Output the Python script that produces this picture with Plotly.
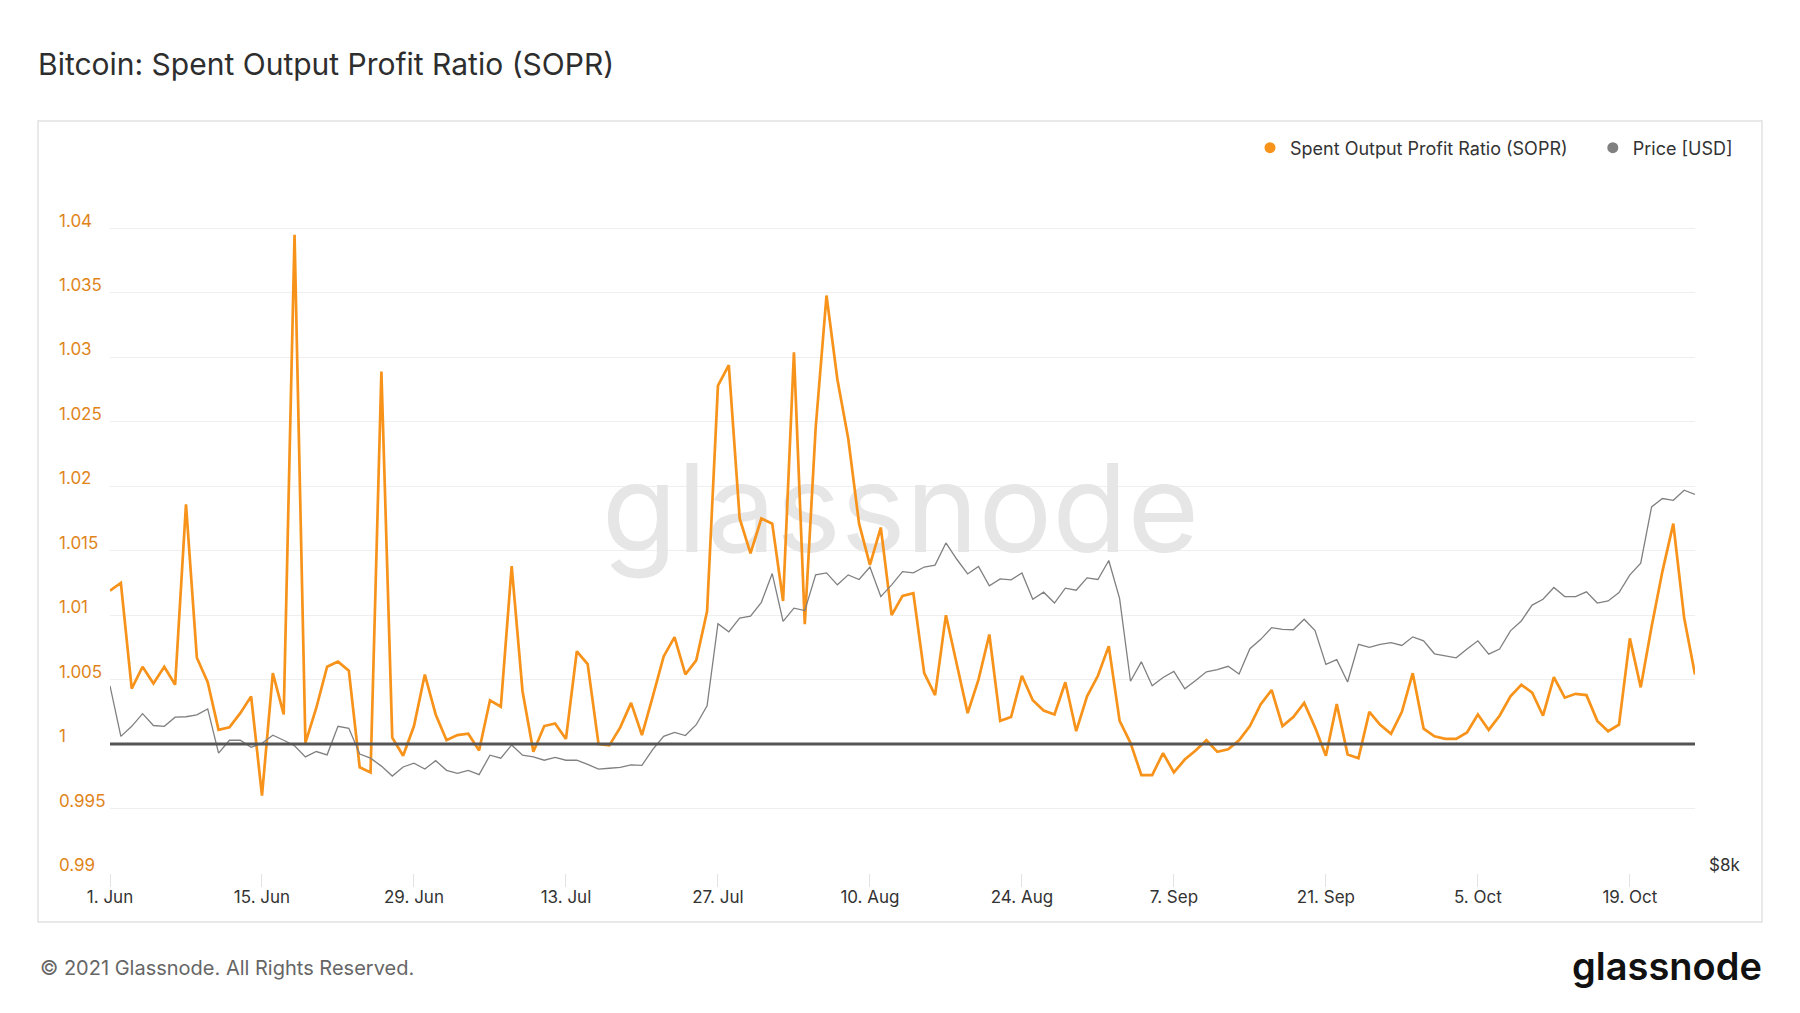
import math
import pandas as pd
import plotly.graph_objects as go

# ---------------- data ----------------
start_date = "2020-06-01"

sopr = [
    # June
    1.0119, 1.0125, 1.0043, 1.0060, 1.0047, 1.0060, 1.0046, 1.0186, 1.0067, 1.0048,
    1.0011, 1.0013, 1.0024, 1.0037, 0.9960, 1.0055, 1.0023, 1.0395, 1.0001, 1.0028,
    1.0060, 1.0064, 1.0057, 0.9982, 0.9978, 1.0289, 1.0005, 0.9991, 1.0014, 1.0054,
    # July
    1.0023, 1.0003, 1.0007, 1.0008, 0.9995, 1.0034, 1.0029, 1.0138, 1.0041, 0.9994,
    1.0014, 1.0016, 1.0004, 1.0072, 1.0062, 1.0000, 0.9999, 1.0013, 1.0032, 1.0007,
    1.0037, 1.0068, 1.0083, 1.0054, 1.0065, 1.0103, 1.0278, 1.0294, 1.0175, 1.0148,
    1.0175,
    # August
    1.0171, 1.0111, 1.0304, 1.0093, 1.0245, 1.0348, 1.0283, 1.0237, 1.0171, 1.0139,
    1.0168, 1.0100, 1.0115, 1.0117, 1.0055, 1.0038, 1.0100, 1.0062, 1.0024, 1.0050,
    1.0085, 1.0018, 1.0021, 1.0053, 1.0034, 1.0026, 1.0023, 1.0048, 1.0010, 1.0037,
    1.0053,
    # September
    1.0076, 1.0018, 1.0001, 0.9976, 0.9976, 0.9993, 0.9978, 0.9988, 0.9995, 1.0003,
    0.9994, 0.9996, 1.0003, 1.0014, 1.0031, 1.0042, 1.0014, 1.0021, 1.0032, 1.0013,
    0.9991, 1.0031, 0.9992, 0.9989, 1.0025, 1.0015, 1.0008, 1.0025, 1.0055, 1.0012,
    # October
    1.0006, 1.0004, 1.0004, 1.0009, 1.0023, 1.0011, 1.0022, 1.0037, 1.0046, 1.0040,
    1.0022, 1.0052, 1.0036, 1.0039, 1.0038, 1.0018, 1.0010, 1.0015, 1.0082, 1.0044,
    1.0091, 1.0134, 1.0171, 1.0098, 1.0054,
]

price_usd = [
    # June
    10190, 9545, 9670, 9830, 9680, 9670, 9785, 9790, 9815, 9890,
    9340, 9497, 9497, 9410, 9460, 9560, 9497, 9430, 9295, 9360,
    9320, 9670, 9645, 9330, 9280, 9185, 9068, 9175, 9220, 9150,
    # July
    9250, 9135, 9100, 9135, 9085, 9315, 9280, 9440, 9315, 9295,
    9255, 9290, 9255, 9255, 9205, 9150, 9160, 9170, 9200, 9195,
    9385, 9545, 9595, 9555, 9690, 9930, 11040, 10925, 11120, 11150,
    11350,
    # August
    11780, 11075, 11265, 11230, 11760, 11790, 11610, 11760, 11690, 11880,
    11435, 11610, 11810, 11790, 11880, 11910, 12256, 12000, 11775, 11890,
    11595, 11700, 11685, 11790, 11395, 11500, 11340, 11560, 11530, 11715,
    11690,
    # September
    11980, 11405, 10250, 10510, 10190, 10300, 10380, 10150, 10260, 10375,
    10405, 10450, 10345, 10690, 10820, 10985, 10960, 10955, 11105, 10945,
    10475, 10540, 10240, 10750, 10710, 10750, 10775, 10735, 10855, 10800,
    # October
    10620, 10590, 10565, 10685, 10800, 10615, 10685, 10940, 11080, 11310,
    11395, 11570, 11435, 11435, 11505, 11340, 11370, 11495, 11760, 11940,
    12840, 12980, 12950, 13120, 13050,
]

dates = pd.date_range(start_date, periods=len(sopr), freq="D")

sopr_ticks = [0.99, 0.995, 1.0, 1.005, 1.01, 1.015, 1.02, 1.025, 1.03, 1.035, 1.04, 1.045]
sopr_tick_text = ["0.99", "0.995", "1", "1.005", "1.01", "1.015", "1.02", "1.025",
                  "1.03", "1.035", "1.04", ""]
sopr_range = [0.99, 1.045]
price_range = [8000, 20000]
price_ticks = [8000]
price_tick_text = ["$8k"]
x_ticks = pd.date_range(start_date, periods=11, freq="14D")
baseline = 1.0
sopr_name = "Spent Output Profit Ratio (SOPR)"
price_name = "Price [USD]"

# ---------------- styling ----------------
ORANGE = "#f7931a"
GREY = "#808080"
FONT = "Inter"
W, H = 1800, 1013
ML, MR, MT, MB = 55, 105, 164, 140
PW = W - ML - MR
PH = H - MT - MB
NBSP_GAP = "\u00a0" * 4


def px_x(px):
    return (px - ML) / PW


def px_y(py):
    return (H - MB - py) / PH


fig = go.Figure()

# watermark (drawn first so that lines are on top)
fig.add_trace(go.Scatter(
    x=[dates[0] + (dates[-1] - dates[0]) * 0.4987], y=[1.0173],
    mode="text", text=["glassnode"],
    textfont=dict(family=FONT, size=123, color="#e6e6e6"),
    textposition="middle center", hoverinfo="skip", showlegend=False,
))

fig.add_trace(go.Scatter(
    x=dates, y=price_usd, yaxis="y2", mode="lines",
    line=dict(color=GREY, width=1.3), showlegend=False,
    name=price_name,
))
fig.add_trace(go.Scatter(
    x=dates, y=sopr, mode="lines",
    line=dict(color=ORANGE, width=2.7), showlegend=False,
    name=sopr_name,
))

# legend entries (dots)
fig.add_trace(go.Scatter(
    x=[None], y=[None], mode="markers",
    marker=dict(color=ORANGE, size=11), name=sopr_name + NBSP_GAP,
))
fig.add_trace(go.Scatter(
    x=[None], y=[None], mode="markers", yaxis="y2",
    marker=dict(color=GREY, size=11), name=price_name,
))

fig.update_layout(
    width=W, height=H,
    margin=dict(l=ML, r=MR, t=MT, b=MB),
    paper_bgcolor="white", plot_bgcolor="white",
    font=dict(family=FONT, color="#333333"),
    title=dict(
        text="Bitcoin: Spent Output Profit Ratio (SOPR)",
        x=38 / W, xanchor="left", xref="container",
        y=1 - 64 / H, yanchor="middle", yref="container",
        font=dict(family=FONT, size=30, color="#2e2e2e"),
    ),
    xaxis=dict(
        type="date", domain=[px_x(110), 1],
        range=[dates[0], dates[-1]],
        tickvals=list(x_ticks), tickformat="%-d. %b",
        ticks="outside", ticklen=13, tickcolor="#e3e3e3", tickwidth=1,
        ticklabelstandoff=-4, ticklabeloverflow="allow",
        showgrid=False, showline=False, zeroline=False,
        tickfont=dict(family=FONT, size=17, color="#333333"),
    ),
    yaxis=dict(
        range=sopr_range, tickvals=sopr_ticks, ticktext=sopr_tick_text,
        anchor="free", position=0, ticklabelposition="inside top",
        ticklabelshift=4, ticklabeloverflow="allow",
        showgrid=True, gridcolor="#efefef", gridwidth=1,
        zeroline=False, showline=False, ticks="",
        tickfont=dict(family=FONT, size=17, color="#e0841a"),
    ),
    yaxis2=dict(
        type="log", overlaying="y", side="right", anchor="x",
        range=[math.log10(price_range[0]), math.log10(price_range[1])],
        tickvals=price_ticks, ticktext=price_tick_text,
        ticklabelposition="outside top", ticklabelstandoff=13, ticklabelshift=4,
        ticklabeloverflow="allow",
        showgrid=False, zeroline=False, showline=False, ticks="",
        tickfont=dict(family=FONT, size=17, color="#333333"),
    ),
    legend=dict(
        orientation="h", x=px_x(1738), xanchor="right",
        y=px_y(148), yanchor="middle",
        font=dict(family=FONT, size=18, color="#333333"),
        bgcolor="rgba(0,0,0,0)", itemclick=False,
    ),
    showlegend=True,
    shapes=[
        dict(type="rect", xref="paper", yref="paper",
             x0=px_x(38), x1=px_x(1762), y0=px_y(922), y1=px_y(121),
             line=dict(color="#e2e2e2", width=1.5), layer="below"),
        dict(type="line", xref="x domain", yref="y", x0=0, x1=1,
             y0=baseline, y1=baseline,
             line=dict(color="#555555", width=3), layer="above"),
    ],
    annotations=[
        dict(text="© 2021 Glassnode. All Rights Reserved.", xref="paper", yref="paper",
             x=px_x(38), y=px_y(968), xanchor="left", yanchor="middle",
             showarrow=False, font=dict(family=FONT, size=20, color="#666666")),
        dict(text="glassnode", xref="paper", yref="paper",
             x=px_x(1764), y=px_y(966), xanchor="right", yanchor="middle",
             showarrow=False, font=dict(family=FONT, size=38, color="#111111", weight=600)),
    ],
)

fig.write_html(
    "out.html",
    config={"displayModeBar": False},
    post_script="document.body.style.margin='0';",
)
